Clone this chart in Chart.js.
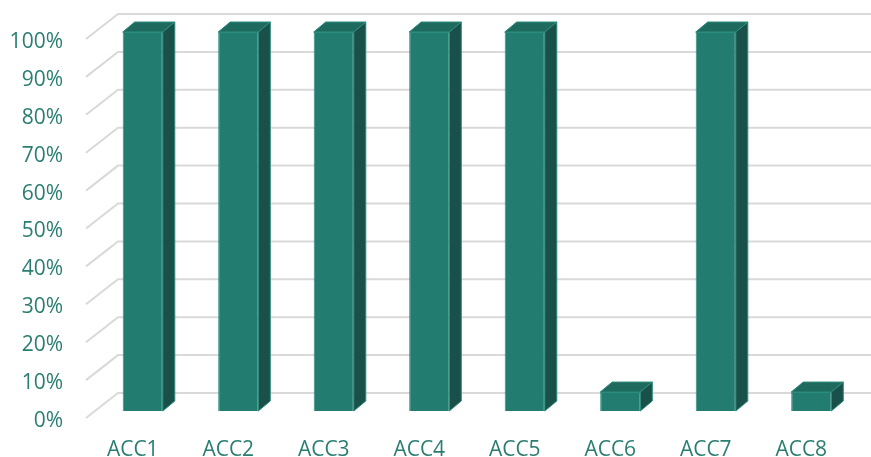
<!DOCTYPE html>
<html>
<head>
<meta charset="utf-8">
<script src="https://cdn.jsdelivr.net/npm/chart.js@4.4.0/dist/chart.umd.min.js"></script>
<style>
  html, body { margin: 0; padding: 0; background: #fff; }
  #wrap { width: 871px; height: 457px; }
</style>
</head>
<body>
<div id="wrap"><canvas id="accChart" width="871" height="457"></canvas></div>
<script>
var labels = ['ACC1', 'ACC2', 'ACC3', 'ACC4', 'ACC5', 'ACC6', 'ACC7', 'ACC8'];
var scores = [100, 100, 100, 100, 100, 5, 100, 5];
var tickValues = [0, 10, 20, 30, 40, 50, 60, 70, 80, 90, 100];

var textColor = '#2A7E71';
var gridColor = '#D9D9D9';

// 3D look: floor/wall depth and bar depth, in pixels
var floorFront = { dx: -9, dy: 7 };
var wallBack = { dx: 23, dy: -18 };
var barDepth = { dx: 12, dy: -10 };

var depthPlugin = {
    id: 'depth3d',
    beforeDatasetsDraw: function(chart) {
        const ctx = chart.ctx;
        const y = chart.scales.y;
        const left = chart.chartArea.left;
        ctx.save();
        ctx.strokeStyle = gridColor;
        ctx.lineWidth = 2;
        tickValues.forEach(function(v) {
            let py = y.getPixelForValue(v);
            ctx.beginPath();
            ctx.moveTo(left + floorFront.dx, py + floorFront.dy);
            ctx.lineTo(left + wallBack.dx, py + wallBack.dy);
            ctx.lineTo(chart.width, py + wallBack.dy);
            ctx.stroke();
        });
        ctx.restore();
    },
    afterDatasetsDraw: function(chart) {
        const ctx = chart.ctx;
        const meta = chart.getDatasetMeta(0);
        ctx.save();
        ctx.lineWidth = 1;
        ctx.strokeStyle = '#2C8C7D';
        meta.data.forEach(function(bar) {
            let p = bar.getProps(['x', 'y', 'base', 'width'], true);
            let l = p.x - p.width / 2, r = p.x + p.width / 2;
            // top face
            ctx.fillStyle = '#1F6A5E';
            ctx.beginPath();
            ctx.moveTo(l, p.y);
            ctx.lineTo(r, p.y);
            ctx.lineTo(r + barDepth.dx, p.y + barDepth.dy);
            ctx.lineTo(l + barDepth.dx, p.y + barDepth.dy);
            ctx.closePath();
            ctx.fill();
            ctx.stroke();
            // side face
            ctx.fillStyle = '#19504A';
            ctx.beginPath();
            ctx.moveTo(r, p.y);
            ctx.lineTo(r + barDepth.dx, p.y + barDepth.dy);
            ctx.lineTo(r + barDepth.dx, p.base + barDepth.dy);
            ctx.lineTo(r, p.base);
            ctx.closePath();
            ctx.fill();
            ctx.stroke();
        });
        ctx.restore();
    }
};

new Chart(document.getElementById('accChart').getContext('2d'), {
    type: 'bar',
    data: {
        labels: labels,
        datasets: [{
            data: scores,
            backgroundColor: '#237C70',
            borderColor: '#2C8C7D',
            borderWidth: 1,
            barPercentage: 0.42,
            categoryPercentage: 1
        }]
    },
    options: {
        responsive: false,
        animation: false,
        events: [],
        layout: { padding: { top: 32, right: 12, bottom: 0, left: 0 } },
        plugins: {
            legend: { display: false },
            tooltip: { enabled: false }
        },
        scales: {
            x: {
                grid: { display: false, drawTicks: false },
                border: { display: false },
                ticks: {
                    color: textColor,
                    font: { family: 'Open Sans', size: 21 },
                    padding: 26,
                    labelOffset: -10,
                    maxRotation: 0
                },
                afterFit: function(s) { s.height = 46; }
            },
            y: {
                min: 0,
                max: 100,
                grid: { display: false, drawTicks: false },
                border: { display: false },
                ticks: {
                    stepSize: 10,
                    color: textColor,
                    font: { family: 'Open Sans', size: 21 },
                    padding: 32,
                    labelOffset: 10,
                    callback: function(v) { return v + '%'; }
                },
                afterFit: function(s) {
                    s.width = 95;
                    s.paddingTop = 0;
                    s.paddingBottom = 0;
                }
            }
        }
    },
    plugins: [depthPlugin]
});
</script>
</body>
</html>
